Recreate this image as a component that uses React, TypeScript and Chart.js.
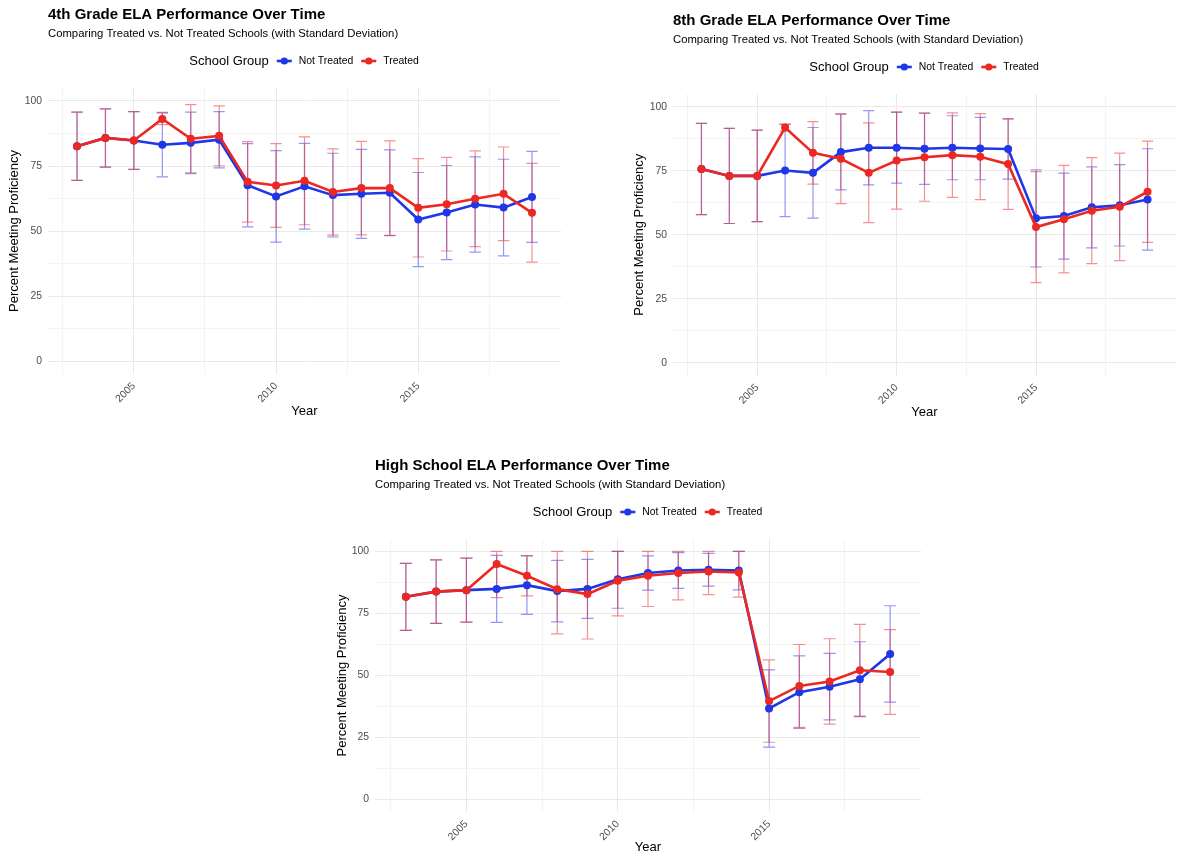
import React, { useEffect, useRef } from "react";
import { Chart, registerables } from "chart.js";

Chart.register(...registerables);

// ---- data -------------------------------------------------------------
const years = [2003, 2004, 2005, 2006, 2007, 2008, 2009, 2010, 2011, 2012, 2013, 2014, 2015, 2016, 2017, 2018, 2019];

const groupNames = ["Not Treated", "Treated"];
const legendTitle = "School Group";
const subtitleText = "Comparing Treated vs. Not Treated Schools (with Standard Deviation)";
const yAxisTitle = "Percent Meeting Proficiency";
const xAxisTitle = "Year";

const xGridValues = [2002.5, 2005, 2007.5, 2010, 2012.5, 2015, 2017.5];
const xTickLabels = [2005, 2010, 2015];
const yGridValues = [0, 12.5, 25, 37.5, 50, 62.5, 75, 87.5, 100];
const yTickLabels = [0, 25, 50, 75, 100];

// 4th grade
const grade4NotTreated = [82.6, 85.8, 84.8, 83.2, 83.9, 85.1, 67.6, 63.3, 67.2, 63.8, 64.3, 64.7, 54.4, 57.1, 60.2, 59.0, 63.1];
const grade4NotTreatedSd = [13.1, 11.2, 11.1, 12.4, 11.8, 10.8, 16.0, 17.6, 16.5, 16.1, 17.1, 16.5, 18.1, 18.1, 18.3, 18.6, 17.5];
const grade4Treated = [82.6, 85.8, 84.8, 93.1, 85.5, 86.6, 68.9, 67.5, 69.3, 65.0, 66.5, 66.5, 58.9, 60.3, 62.4, 64.3, 57.0];
const grade4TreatedSd = [13.1, 11.2, 11.1, 2.2, 13.1, 11.5, 15.5, 16.1, 16.9, 16.6, 18.0, 18.2, 18.9, 18.0, 18.4, 18.0, 19.0];

// 8th grade
const grade8NotTreated = [75.7, 73.0, 73.0, 75.1, 74.2, 82.3, 84.0, 84.0, 83.6, 84.0, 83.7, 83.5, 56.4, 57.3, 60.7, 61.5, 63.8];
const grade8NotTreatedSd = [17.8, 18.6, 17.9, 18.0, 17.7, 14.8, 14.5, 13.8, 13.9, 12.5, 12.2, 11.8, 19.0, 16.8, 15.8, 15.9, 19.8];
const grade8Treated = [75.7, 73.0, 73.0, 91.9, 82.0, 79.7, 74.2, 79.0, 80.3, 81.1, 80.5, 77.6, 53.0, 56.1, 59.4, 60.9, 66.8];
const grade8TreatedSd = [17.8, 18.6, 17.9, 1.3, 12.2, 17.5, 19.5, 19.0, 17.2, 16.5, 16.8, 17.7, 21.7, 21.0, 20.7, 21.0, 19.8];

// High school
const highSchoolNotTreated = [81.7, 83.8, 84.4, 84.9, 86.4, 84.0, 84.9, 88.8, 91.3, 92.3, 92.6, 92.3, 36.7, 43.3, 45.5, 48.5, 58.7];
const highSchoolNotTreatedSd = [13.5, 12.8, 12.9, 13.5, 11.8, 12.4, 11.9, 11.7, 6.9, 7.2, 6.6, 7.8, 15.6, 14.6, 13.4, 15.1, 19.4];
const highSchoolTreated = [81.7, 83.8, 84.4, 94.9, 90.2, 84.8, 82.8, 88.2, 90.2, 91.3, 91.9, 91.5, 39.7, 45.8, 47.6, 52.1, 51.4];
const highSchoolTreatedSd = [13.5, 12.8, 12.9, 13.5, 8.1, 18.0, 18.1, 14.2, 12.4, 10.8, 9.3, 9.9, 16.6, 16.7, 17.2, 18.5, 17.1];

// ---- styling ------------------------------------------------------------
const FONT = "'Liberation Sans', Arial, Helvetica, sans-serif";
const BLUE = "#1f37e6";
const RED = "#ec2822";
const BLUE_BAR = "rgba(40, 50, 235, 0.5)";
const RED_BAR = "rgba(235, 35, 40, 0.5)";
const GRID_MAJOR = "#e9e9e9";
const GRID_MINOR = "#f3f3f3";
const TICK_COLOR = "#4d4d4d";
const CAP_HALF_YEARS = 0.2;
// x range: error-bar extent (first/last year ± cap) widened by 5% on each side
const X_SPAN = years[years.length - 1] - years[0] + 2 * CAP_HALF_YEARS;
const X_MIN = years[0] - CAP_HALF_YEARS - 0.05 * X_SPAN;
const X_MAX = years[years.length - 1] + CAP_HALF_YEARS + 0.05 * X_SPAN;

type Box = { left: number; top: number; width: number; height: number };
type Area = { left: number; top: number; right: number; bottom: number };

type PanelSpec = {
  id: string;
  title: string;
  notTreated: number[];
  notTreatedSd: number[];
  treated: number[];
  treatedSd: number[];
  frame: Box;
  area: Area;
  yTitleCenter: number;
  xTitleCenter: number;
};

const panels: PanelSpec[] = [
  {
    id: "g4",
    title: "4th Grade ELA Performance Over Time",
    notTreated: grade4NotTreated,
    notTreatedSd: grade4NotTreatedSd,
    treated: grade4Treated,
    treatedSd: grade4TreatedSd,
    frame: { left: 0, top: 0, width: 580, height: 430 },
    area: { left: 48, top: 88, right: 561, bottom: 374 },
    yTitleCenter: 14,
    xTitleCenter: 411.5,
  },
  {
    id: "g8",
    title: "8th Grade ELA Performance Over Time",
    notTreated: grade8NotTreated,
    notTreatedSd: grade8NotTreatedSd,
    treated: grade8Treated,
    treatedSd: grade8TreatedSd,
    frame: { left: 600, top: 0, width: 580, height: 430 },
    area: { left: 673, top: 94, right: 1180, bottom: 375.5 },
    yTitleCenter: 639,
    xTitleCenter: 412,
  },
  {
    id: "hs",
    title: "High School ELA Performance Over Time",
    notTreated: highSchoolNotTreated,
    notTreatedSd: highSchoolNotTreatedSd,
    treated: highSchoolTreated,
    treatedSd: highSchoolTreatedSd,
    frame: { left: 330, top: 450, width: 600, height: 407 },
    area: { left: 375, top: 539, right: 921, bottom: 812 },
    yTitleCenter: 342,
    xTitleCenter: 847,
  },
];

// ---- plugins ------------------------------------------------------------
const errorBarPlugin = {
  id: "errorBars",
  beforeDatasetsDraw(chart: any) {
    const { ctx } = chart;
    const x = chart.scales.x;
    const y = chart.scales.y;
    ctx.save();
    ctx.lineWidth = 1.2;
    chart.data.datasets.forEach((ds: any) => {
      ctx.strokeStyle = ds.errorColor;
      ds.data.forEach((pt: { x: number; y: number }, i: number) => {
        const sd = ds.sd[i];
        const lo = pt.y - sd;
        const hi = Math.min(pt.y + sd, 100);
        const px = x.getPixelForValue(pt.x);
        const half = x.getPixelForValue(pt.x + CAP_HALF_YEARS) - px;
        const pLo = y.getPixelForValue(lo);
        const pHi = y.getPixelForValue(hi);
        ctx.beginPath();
        ctx.moveTo(px, pLo);
        ctx.lineTo(px, pHi);
        ctx.moveTo(px - half, pHi);
        ctx.lineTo(px + half, pHi);
        ctx.moveTo(px - half, pLo);
        ctx.lineTo(px + half, pLo);
        ctx.stroke();
      });
    });
    ctx.restore();
  },
};

const headerPlugin = {
  id: "ggHeader",
  afterDraw(chart: any, _args: any, opts: any) {
    const { ctx, chartArea } = chart;
    const left = chartArea.left;
    const top = chartArea.top;
    ctx.save();
    ctx.textBaseline = "middle";
    ctx.textAlign = "left";
    ctx.fillStyle = "#000";

    ctx.font = `bold 15px ${FONT}`;
    ctx.fillText(opts.title, left, top - 73);

    ctx.font = `11.3px ${FONT}`;
    ctx.fillText(subtitleText, left, top - 54);

    // legend
    const legendY = top - 27;
    const keyW = 15;
    ctx.font = `13px ${FONT}`;
    const titleW = ctx.measureText(legendTitle).width;
    ctx.font = `10.4px ${FONT}`;
    const w0 = ctx.measureText(groupNames[0]).width;
    const w1 = ctx.measureText(groupNames[1]).width;
    const total = titleW + 8 + keyW + 7 + w0 + 8 + keyW + 8 + w1;
    let cx = (chartArea.left + chartArea.right) / 2 - total / 2;

    ctx.font = `13px ${FONT}`;
    ctx.fillText(legendTitle, cx, legendY);
    cx += titleW + 8;

    const drawKey = (color: string, label: string, labelW: number, gapAfter: number) => {
      ctx.strokeStyle = color;
      ctx.fillStyle = color;
      ctx.lineWidth = 2.6;
      ctx.beginPath();
      ctx.moveTo(cx, legendY);
      ctx.lineTo(cx + keyW, legendY);
      ctx.stroke();
      ctx.beginPath();
      ctx.arc(cx + keyW / 2, legendY, 3.6, 0, Math.PI * 2);
      ctx.fill();
      cx += keyW + 7;
      ctx.fillStyle = "#000";
      ctx.font = `10.4px ${FONT}`;
      ctx.fillText(label, cx, legendY);
      cx += labelW + gapAfter;
    };
    drawKey(BLUE, groupNames[0], w0, 8);
    drawKey(RED, groupNames[1], w1, 0);
    ctx.restore();
  },
};

// ---- chart --------------------------------------------------------------
function buildConfig(spec: PanelSpec): any {
  const { frame, area } = spec;
  const yAxisWidth = area.left - frame.left;
  const xAxisHeight = frame.top + frame.height - area.bottom;
  const titleHalf = (13 * 1.2) / 2;

  const toPoints = (vals: number[]) => years.map((yr, i) => ({ x: yr, y: vals[i] }));

  return {
    type: "line",
    data: {
      datasets: [
        {
          label: groupNames[0],
          data: toPoints(spec.notTreated),
          sd: spec.notTreatedSd,
          errorColor: BLUE_BAR,
          borderColor: BLUE,
          backgroundColor: BLUE,
          borderWidth: 2.6,
          pointRadius: 4,
          pointBorderWidth: 0,
          pointBackgroundColor: BLUE,
          tension: 0,
          order: 1,
        },
        {
          label: groupNames[1],
          data: toPoints(spec.treated),
          sd: spec.treatedSd,
          errorColor: RED_BAR,
          borderColor: RED,
          backgroundColor: RED,
          borderWidth: 2.6,
          pointRadius: 4,
          pointBorderWidth: 0,
          pointBackgroundColor: RED,
          tension: 0,
          order: 0,
        },
      ],
    },
    options: {
      responsive: false,
      animation: false,
      devicePixelRatio: 1,
      events: [],
      layout: {
        padding: {
          left: 0,
          top: area.top - frame.top,
          right: frame.left + frame.width - area.right,
          bottom: 0,
        },
      },
      plugins: {
        legend: { display: false },
        title: { display: false },
        tooltip: { enabled: false },
        ggHeader: { title: spec.title },
      },
      scales: {
        x: {
          type: "linear",
          min: X_MIN,
          max: X_MAX,
          afterBuildTicks: (s: any) => {
            s.ticks = xGridValues.map((v) => ({ value: v }));
          },
          afterFit: (s: any) => {
            s.height = xAxisHeight;
          },
          border: { display: false },
          grid: {
            drawTicks: false,
            tickLength: 0,
            lineWidth: 1,
            color: (c: any) => (c.tick && xTickLabels.includes(c.tick.value) ? GRID_MAJOR : GRID_MINOR),
          },
          ticks: {
            autoSkip: false,
            minRotation: 45,
            maxRotation: 45,
            padding: 6,
            color: TICK_COLOR,
            font: { family: FONT, size: 10.4 },
            callback: (v: number) => (xTickLabels.includes(v) ? String(v) : ""),
          },
          title: {
            display: true,
            text: xAxisTitle,
            color: "#000",
            font: { family: FONT, size: 13 },
            padding: { top: 0, bottom: frame.top + frame.height - spec.xTitleCenter - titleHalf },
          },
        },
        y: {
          type: "linear",
          min: -5,
          max: 105,
          afterBuildTicks: (s: any) => {
            s.ticks = yGridValues.map((v) => ({ value: v }));
          },
          afterFit: (s: any) => {
            s.width = yAxisWidth;
          },
          border: { display: false },
          grid: {
            drawTicks: false,
            tickLength: 0,
            lineWidth: 1,
            color: (c: any) => (c.tick && yTickLabels.includes(c.tick.value) ? GRID_MAJOR : GRID_MINOR),
          },
          ticks: {
            padding: 6,
            color: TICK_COLOR,
            font: { family: FONT, size: 10.4 },
            callback: (v: number) => (yTickLabels.includes(v) ? String(v) : ""),
          },
          title: {
            display: true,
            text: yAxisTitle,
            color: "#000",
            font: { family: FONT, size: 13 },
            padding: { top: spec.yTitleCenter - frame.left - titleHalf, bottom: 0 },
          },
        },
      },
    },
    plugins: [errorBarPlugin, headerPlugin],
  };
}

function PanelChart({ spec }: { spec: PanelSpec }) {
  const ref = useRef<HTMLCanvasElement | null>(null);
  useEffect(() => {
    if (!ref.current) return;
    const chart = new Chart(ref.current, buildConfig(spec));
    return () => chart.destroy();
  }, [spec]);
  const f = spec.frame;
  return (
    <canvas
      ref={ref}
      width={f.width}
      height={f.height}
      style={{ position: "absolute", left: f.left, top: f.top, width: f.width, height: f.height }}
    />
  );
}

export default function App() {
  return (
    <div
      style={{
        position: "absolute",
        left: 0,
        top: 0,
        width: 1180,
        height: 857,
        background: "#fff",
        overflow: "hidden",
      }}
    >
      {panels.map((p) => (
        <PanelChart key={p.id} spec={p} />
      ))}
    </div>
  );
}
